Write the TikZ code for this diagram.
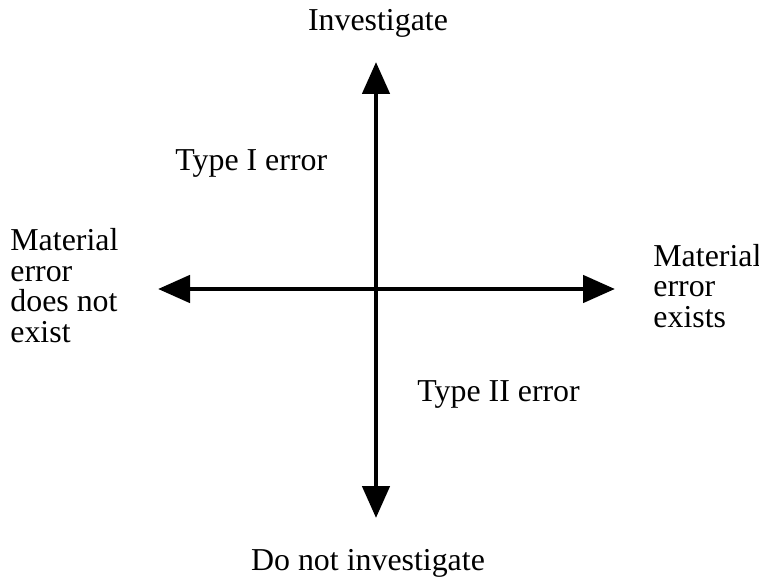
\documentclass[tikz,border=0pt]{standalone}
\usepackage{fontspec}
\setmainfont{Liberation Serif}
\usetikzlibrary{arrows.meta}

\tikzset{
	axis/.style={line width=2.4bp, -{Triangle[length=16bp,width=13.5bp]}},
	lbl/.style={inner sep=0pt, font=\fontsize{16}{15.3}\selectfont}
}

\begin{document}
\begin{tikzpicture}[x=0.5bp,y=-0.5bp]
				\useasboundingbox (0,0) rectangle (759,577);
				
				\coordinate (o) at (376,289);
				\coordinate (top) at (376,62);
				\coordinate (bottom) at (376,518);
				\coordinate (left) at (158,289);
				\coordinate (right) at (615,289);
				
				\draw[axis] (o) -- (top);
				\draw[axis] (o) -- (bottom);
				\draw[axis] (o) -- (left);
				\draw[axis] (o) -- (right);
				
				\node[lbl, anchor=base] (invest) at (378,31) {Investigate};
				\node[lbl, anchor=base] (noinvest) at (368,570) {Do not investigate};
				\node[lbl, anchor=base west] (typeone) at (175,171) {Type I error};
				\node[lbl, anchor=base west] (typetwo) at (417,401) {Type II error};
				\node[lbl, anchor=base west, align=left] (noerror) at (10,342) {Material\\error\\does not\\exist};
				\node[lbl, anchor=base west, align=left] (error) at (653,327) {Material\\error\\exists};
			\end{tikzpicture}
\end{document}
